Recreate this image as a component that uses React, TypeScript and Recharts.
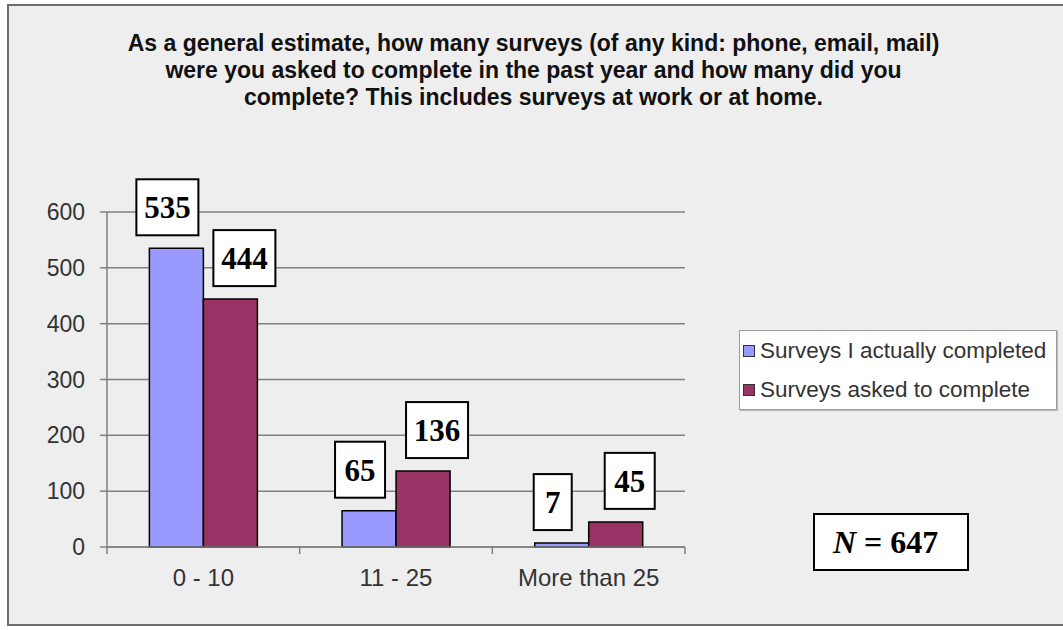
import React from 'react';
import { BarChart, Bar, XAxis, YAxis, CartesianGrid, Legend, LabelList } from 'recharts';

const categories = ['0 - 10', '11 - 25', 'More than 25'];
const completedValues = [535, 65, 7];
const askedValues = [444, 136, 45];
const yTicks = [0, 100, 200, 300, 400, 500, 600];
const seriesNames = ['Surveys I actually completed', 'Surveys asked to complete'];
const titleLines = [
  'As a general estimate, how many surveys (of any kind: phone, email, mail)',
  'were you asked to complete in the past year and how many did you',
  'complete? This includes surveys at work or at home.',
];
const sampleSize = 647;

const data = categories.map((category, i) => ({
  category,
  completed: completedValues[i],
  asked: askedValues[i],
}));

const W = 1063;
const H = 630;
const SANS = '"Liberation Sans", Arial, sans-serif';
const SERIF = '"Liberation Serif", "Times New Roman", serif';
const GRID = '#808080';

function makeValueBox(dx: number) {
  return function ValueBox(props: any) {
    const { x, y, width, value } = props;
    const text = String(value);
    const w = 26 + 12 * text.length;
    const h = 56;
    const cx = Number(x) + Number(width) / 2 + dx;
    const bottom = Number(y) - 13;
    return (
      <g>
        <rect x={cx - w / 2} y={bottom - h} width={w} height={h} fill="#fff" stroke="#000" strokeWidth={2} />
        <text x={cx} y={bottom - h / 2 + 11} textAnchor="middle" fontFamily={SERIF} fontWeight="bold" fontSize={31} fill="#000">
          {text}
        </text>
      </g>
    );
  };
}
const CompletedBox = makeValueBox(-9);
const AskedBox = makeValueBox(14);

function CategoryTick(props: any) {
  const { x, y, payload, index } = props;
  const half = payload && payload.offset ? payload.offset : 0;
  return (
    <g>
      {index === 0 && <line x1={x - half} x2={x - half} y1={y} y2={y + 7} stroke={GRID} strokeWidth={1.5} />}
      <line x1={x + half} x2={x + half} y1={y} y2={y + 7} stroke={GRID} strokeWidth={1.5} />
      <text x={x} y={y + 39} textAnchor="middle" fontFamily={SANS} fontSize={24} fill="#333">
        {payload.value}
      </text>
    </g>
  );
}

function LegendBox(props: any) {
  const { payload } = props;
  return (
    <div
      style={{
        boxSizing: 'border-box',
        width: 318,
        height: 80,
        background: '#fff',
        border: '1.5px solid #9a9a9a',
        boxShadow: '1px 1px 1px #c0c0c0',
        fontFamily: SANS,
        fontSize: 22.5,
        color: '#333',
        paddingLeft: 3,
      }}
    >
      {(payload || []).map((entry: any) => (
        <div key={entry.value} style={{ display: 'flex', alignItems: 'center', height: 39, whiteSpace: 'nowrap' }}>
          <span
            style={{
              display: 'inline-block',
              width: 10,
              height: 10,
              background: entry.color,
              border: '1px solid #333',
              marginRight: 5,
            }}
          />
          {entry.value}
        </div>
      ))}
    </div>
  );
}

export default function App() {
  return (
    <div style={{ position: 'absolute', left: 0, top: 0, width: W, height: H, background: '#fff', overflow: 'hidden' }}>
      <div
        style={{
          position: 'absolute',
          left: 7,
          top: 4,
          width: W,
          height: 622,
          boxSizing: 'border-box',
          borderTop: '2px solid #6e6e6e',
          borderLeft: '2px solid #6e6e6e',
          borderBottom: '2px solid #6e6e6e',
          background: '#eeeeee',
        }}
      />
      <div
        style={{
          position: 'absolute',
          left: 0,
          width: W + 4,
          top: 30,
          textAlign: 'center',
          fontFamily: SANS,
          fontWeight: 'bold',
          fontSize: 23,
          letterSpacing: 0,
          lineHeight: '27px',
          color: '#111',
        }}
      >
        {titleLines.map((l) => (
          <div key={l}>{l}</div>
        ))}
      </div>
      <div style={{ position: 'absolute', left: 0, top: 0 }}>
        <BarChart
          width={W}
          height={H}
          data={data}
          margin={{ top: 212, right: 378, bottom: 33, left: 47 }}
          barCategoryGap="22%"
          barGap={0}
        >
          <CartesianGrid vertical={false} stroke={GRID} strokeWidth={1.5} />
          <XAxis
            dataKey="category"
            height={50}
            axisLine={{ stroke: GRID, strokeWidth: 1.5 }}
            tickLine={false}
            tickSize={0}
            tickMargin={0}
            tick={<CategoryTick />}
            interval={0}
          />
          <YAxis
            width={60}
            domain={[0, 600]}
            ticks={yTicks}
            interval={0}
            axisLine={{ stroke: GRID, strokeWidth: 1.5 }}
            tickLine={{ stroke: GRID, strokeWidth: 1.5 }}
            tickSize={7}
            tickMargin={15}
            tick={{ fontFamily: SANS, fontSize: 23, fill: '#333' }}
          />
          <Legend
            layout="vertical"
            align="center"
            verticalAlign="middle"
            content={<LegendBox />}
            wrapperStyle={{ left: 739, top: 330, width: 318, height: 80 }}
          />
          <Bar dataKey="completed" name={seriesNames[0]} fill="#9999ff" stroke="#000" strokeWidth={1.5} isAnimationActive={false}>
            <LabelList dataKey="completed" content={<CompletedBox />} />
          </Bar>
          <Bar dataKey="asked" name={seriesNames[1]} fill="#993366" stroke="#000" strokeWidth={1.5} isAnimationActive={false}>
            <LabelList dataKey="asked" content={<AskedBox />} />
          </Bar>
        </BarChart>
      </div>
      <div
        style={{
          position: 'absolute',
          left: 813,
          top: 513,
          width: 156,
          height: 58,
          boxSizing: 'border-box',
          border: '2px solid #000',
          background: '#fff',
          fontFamily: SERIF,
          fontWeight: 'bold',
          fontSize: 32,
          lineHeight: '54px',
          paddingLeft: 18,
          color: '#000',
          whiteSpace: 'nowrap',
        }}
      >
        <i>N</i> = {sampleSize}
      </div>
    </div>
  );
}
